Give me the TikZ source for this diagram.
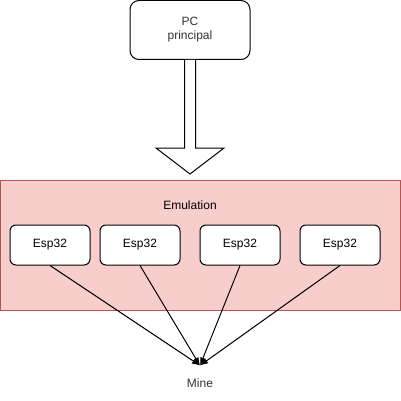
\documentclass[tikz,border=0pt]{standalone}
\usepackage{fontspec}
\setmainfont{Liberation Sans}
\usetikzlibrary{arrows.meta, positioning, calc}

\begin{document}
\begin{tikzpicture}[x=1pt, y=-1pt, line width=1pt, font=\fontsize{12}{14}\selectfont]
    \useasboundingbox (0,0) rectangle (401,401);
    \tikzset{
        espbox/.style={draw, rounded corners=6pt, minimum width=80pt, minimum height=40pt, fill=white},
        link/.style={-{Latex[length=8pt, width=6pt]}}
    }
    
    % PC principal
    \node[draw, rounded corners=9pt, minimum width=120pt, minimum height=59pt, align=center, fill=white, text=black!80] (pc) at (190,30) {PC\\principal};
    
    % fleche
    \draw[fill=white] ($(pc.south)+(-5.5,0)$) -- ++(0,88) -- ++(-28.5,0) -- ($(pc.south)+(0,114)$)
        -- ($(pc.south)+(34,88)$) -- ++(-28.5,0) -- ($(pc.south)+(5.5,0)$);
    
    % zone emulation
    \draw[draw={rgb,255:red,184;green,84;blue,80}, fill={rgb,255:red,248;green,206;blue,204}] (0.5,180.5) rectangle (400,310);
    \node (emul) at (190,205) {Emulation};
    
    % Esp32
    \node[espbox] (esp1) at (50,245) {Esp32};
    \node[espbox] (esp2) at (140,245) {Esp32};
    \node[espbox] (esp3) at (240,245) {Esp32};
    \node[espbox] (esp4) at (340,245) {Esp32};
    
    % Mine
    \node[minimum height=34pt, text=black!80] (mine) at (200,383) {Mine};
    \draw[link] (esp1.south) -- (mine.north);
    \draw[link] (esp2.south) -- (mine.north);
    \draw[link] (esp3.south) -- (mine.north);
    \draw[link] (esp4.south) -- (mine.north);
\end{tikzpicture}
\end{document}
